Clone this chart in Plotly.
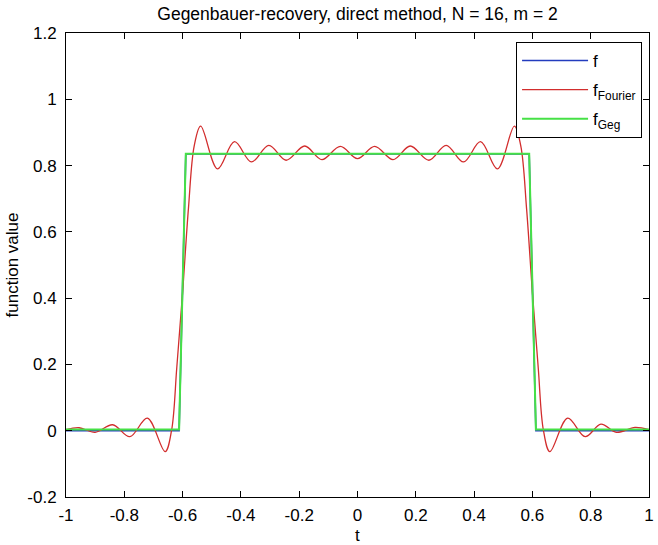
import plotly.graph_objects as go

# ---- data ----
t_f = [-1.0, -0.612, -0.589, 0.589, 0.612, 1.0]
y_f = [0.0, 0.0, 0.835, 0.835, 0.0, 0.0]

t_fourier = [-1.0, -0.955, -0.900, -0.840, -0.781, -0.721, -0.660, -0.638, -0.620,
             -0.600, -0.580, -0.560, -0.538, -0.480, -0.422, -0.364, -0.304, -0.245,
             -0.181, -0.122, -0.059, 0.0, 0.059, 0.122, 0.181, 0.245, 0.304, 0.364,
             0.422, 0.480, 0.538, 0.560, 0.580, 0.600, 0.620, 0.638, 0.660, 0.721,
             0.781, 0.835, 0.888, 0.952, 1.0]
y_fourier = [0.003, 0.009, -0.005, 0.018, -0.018, 0.038, -0.063, 0.0, 0.19,
             0.417, 0.67, 0.86, 0.919, 0.790, 0.872, 0.811, 0.861, 0.816,
             0.859, 0.818, 0.858, 0.821, 0.858, 0.818, 0.859, 0.816, 0.861, 0.811,
             0.872, 0.790, 0.919, 0.86, 0.67, 0.417, 0.19, 0.0, -0.063, 0.038,
             -0.018, 0.020, -0.005, 0.010, 0.003]

t_geg = [-1.0, -0.612, -0.589, 0.589, 0.612, 1.0]
y_geg = [0.004, 0.004, 0.836, 0.836, 0.004, 0.004]

x_tickvals = [-1, -0.8, -0.6, -0.4, -0.2, 0, 0.2, 0.4, 0.6, 0.8, 1]
x_ticktext = ["-1", "-0.8", "-0.6", "-0.4", "-0.2", "0", "0.2", "0.4", "0.6", "0.8", "1"]
y_tickvals = [-0.2, 0, 0.2, 0.4, 0.6, 0.8, 1, 1.2]
y_ticktext = ["-0.2", "0", "0.2", "0.4", "0.6", "0.8", "1", "1.2"]

FONT = "Liberation Sans, Arial, sans-serif"

fig = go.Figure()
fig.add_trace(go.Scatter(x=t_f, y=y_f, mode="lines", name="f", legendgroup="a",
                         line=dict(color="rgb(35,60,190)", width=1.6)))
fig.add_trace(go.Scatter(x=t_fourier, y=y_fourier, mode="lines", name="f<sub>Fourier</sub>",
                         legendgroup="b",
                         line=dict(color="rgb(210,45,45)", width=1.3, shape="spline", smoothing=1.0)))
fig.add_trace(go.Scatter(x=t_geg, y=y_geg, mode="lines", name="f<sub>Geg</sub>", legendgroup="c",
                         line=dict(color="rgb(70,225,70)", width=2)))

axis_common = dict(showgrid=False, zeroline=False, showline=True, linecolor="black",
                   linewidth=1, mirror="allticks", ticks="inside", ticklen=6,
                   tickcolor="black", tickfont=dict(family=FONT, size=17, color="black"),
                   ticklabeloverflow="allow")

fig.update_xaxes(range=[-1, 1], tickvals=x_tickvals, ticktext=x_ticktext,
                 ticklabelstandoff=3, **axis_common)
fig.update_yaxes(range=[-0.2, 1.2], tickvals=y_tickvals, ticktext=y_ticktext,
                 ticklabelstandoff=5, **axis_common)

fig.update_layout(
    width=658, height=545,
    margin=dict(l=66, r=4, t=33, b=48),
    paper_bgcolor="white", plot_bgcolor="white",
    font=dict(family=FONT, size=17, color="black"),
    title=dict(text="Gegenbauer-recovery, direct method, N = 16, m = 2",
               x=0.5, xref="paper", y=1 - 14 / 545, yanchor="middle",
               font=dict(family=FONT, size=17.5, color="black")),
    showlegend=True,
    legend=dict(x=(647 - 66) / 588, y=(497 - 42) / 464, xanchor="right", yanchor="top",
                bgcolor="white", bordercolor="black", borderwidth=1,
                font=dict(family=FONT, size=17, color="black"),
                tracegroupgap=4, itemwidth=66),
    annotations=[
        dict(text="t", xref="paper", yref="paper", x=0.5, y=-38 / 464,
             xanchor="center", yanchor="middle", showarrow=False,
             font=dict(family=FONT, size=17, color="black")),
        dict(text="function value", xref="paper", yref="paper", x=-54 / 588, y=0.5,
             xanchor="center", yanchor="middle", showarrow=False, textangle=-90,
             font=dict(family=FONT, size=17, color="black")),
    ],
)

fig.write_html("out.html", post_script="document.body.style.margin='0';",
               config={"displayModeBar": False})
